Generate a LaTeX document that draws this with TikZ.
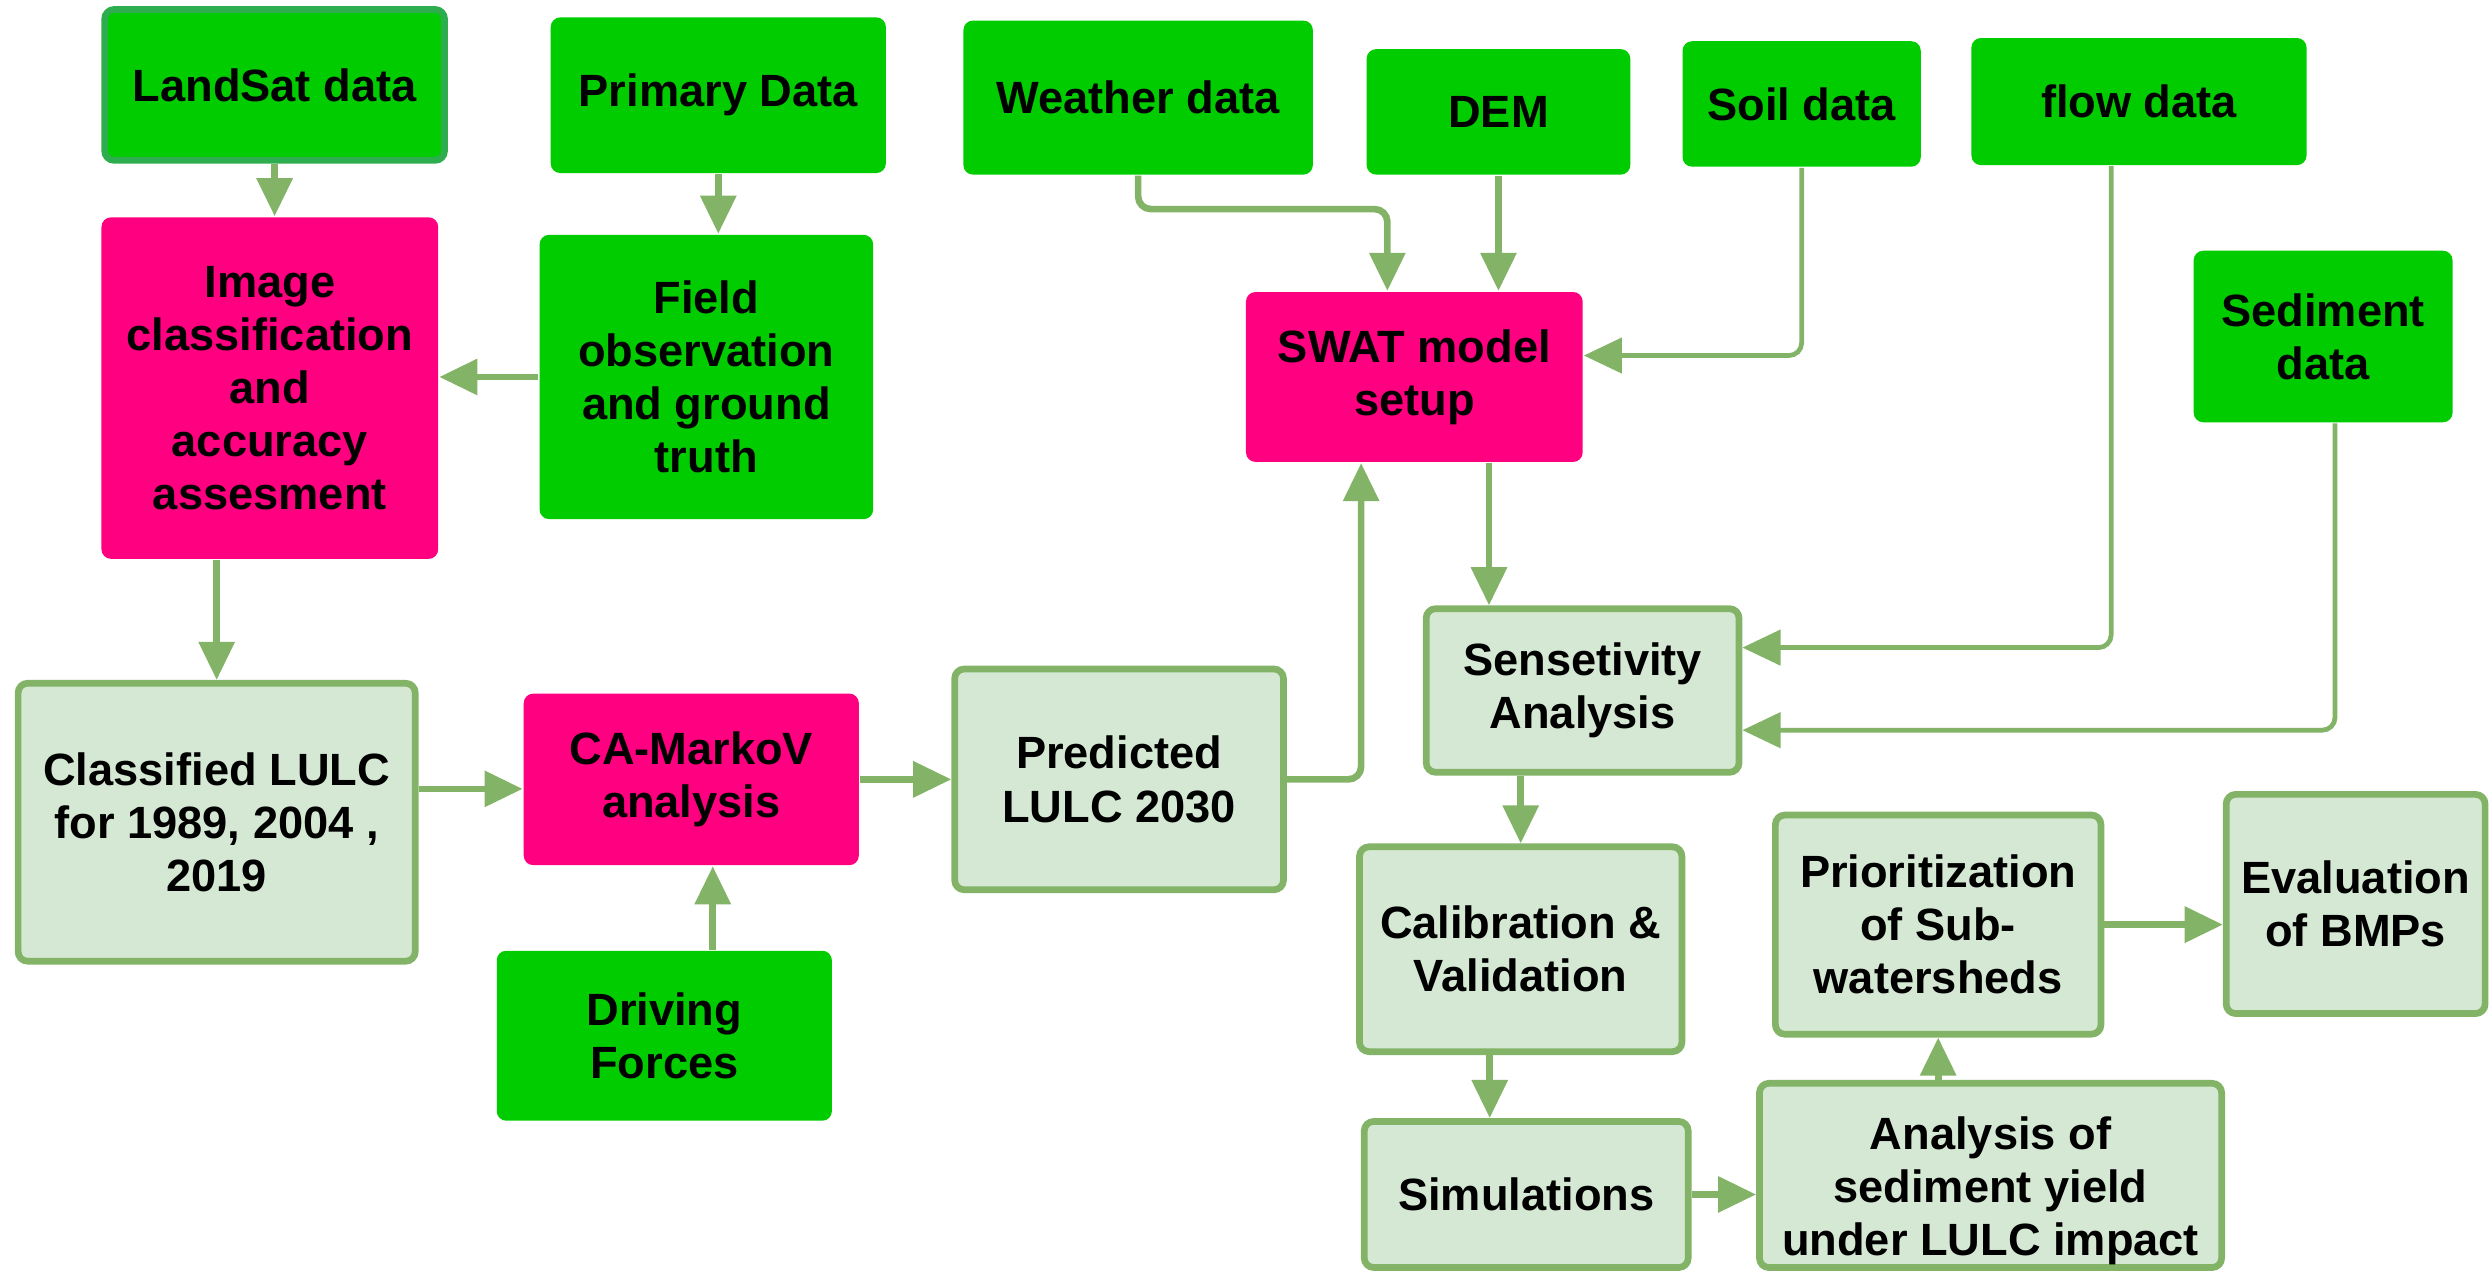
\documentclass[tikz,border=0pt]{standalone}
\usepackage{fontspec}
\setmainfont{Liberation Sans}
\usetikzlibrary{arrows.meta,calc}
\definecolor{gfill}{HTML}{00CC00}
\definecolor{pfill}{HTML}{FF0080}
\definecolor{lfill}{HTML}{D5E8D4}
\definecolor{lline}{HTML}{82B366}
\definecolor{lsline}{HTML}{2EAD4F}
\begin{document}
\begin{tikzpicture}[x=0.01cm,y=-0.01cm,
  base/.style={inner sep=0pt, align=center, font=\bfseries\fontsize{8.1}{9.5}\selectfont},
  gbox/.style={base, fill=gfill, rounded corners=0.06cm},
  pbox/.style={base, fill=pfill, rounded corners=0.06cm},
  lbox/.style={base, fill=lfill, draw=lline, line width=1.2pt, rounded corners=0.06cm},
  arr/.style={draw=lline, line width=1.2pt, -{Triangle[length=0.24cm,width=0.22cm]}},
  thinarr/.style={arr, line width=0.85pt},
]
\useasboundingbox (0,0) rectangle (1568,801);

% nodes
\node[gbox, draw=lsline, line width=1.2pt, minimum width=2.14cm, minimum height=0.95cm] (landsat) at (173,53.5) {LandSat data};
\node[gbox, minimum width=2.11cm, minimum height=0.98cm] (primary) at (452.5,60) {Primary Data};
\node[pbox, minimum width=2.12cm, minimum height=2.15cm] (image) at (170,244.5) {Image\\classification\\and\\accuracy\\assesment};
\node[gbox, minimum width=2.10cm, minimum height=1.79cm] (field) at (445,237.5) {Field\\observation\\and ground\\truth};
\node[gbox, minimum width=2.20cm, minimum height=0.97cm] (weather) at (717,61.5) {Weather data};
\node[gbox, minimum width=1.66cm, minimum height=0.79cm] (dem) at (944,70.5) {DEM};
\node[gbox, minimum width=1.50cm, minimum height=0.79cm] (soil) at (1135,65.5) {Soil data};
\node[gbox, minimum width=2.11cm, minimum height=0.80cm] (flow) at (1347.5,64) {flow data};
\node[gbox, minimum width=1.63cm, minimum height=1.08cm] (sediment) at (1463.5,212) {Sediment\\data};
\node[pbox, minimum width=2.12cm, minimum height=1.07cm] (swat) at (891,237.5) {SWAT model\\setup};
\node[lbox, minimum width=2.50cm, minimum height=1.75cm] (classified) at (136.5,518) {Classified LULC\\for 1989, 2004 ,\\2019};
\node[pbox, minimum width=2.11cm, minimum height=1.08cm] (camarkov) at (435.5,491) {CA-MarkoV\\analysis};
\node[lbox, minimum width=2.07cm, minimum height=1.39cm] (predicted) at (705,491) {Predicted\\LULC 2030};
\node[gbox, minimum width=2.11cm, minimum height=1.07cm] (driving) at (418.5,652.5) {Driving\\Forces};
\node[lbox, minimum width=1.97cm, minimum height=1.03cm] (sens) at (997,435) {Sensetivity\\Analysis};
\node[lbox, minimum width=2.03cm, minimum height=1.29cm] (calib) at (958,598) {Calibration \&\\Validation};
\node[lbox, minimum width=2.04cm, minimum height=0.92cm] (sim) at (961.5,752.5) {Simulations};
\node[lbox, minimum width=2.91cm, minimum height=1.16cm] (analysis) at (1254,740.5) {};
\node[base] (analysistext) at (1254,750) {Analysis of\\sediment yield\\under LULC impact};
\node[lbox, minimum width=2.05cm, minimum height=1.38cm] (prior) at (1221,582.5) {Prioritization\\of Sub-\\watersheds};
\node[lbox, minimum width=1.63cm, minimum height=1.38cm] (eval) at (1484,569.5) {Evaluation\\of BMPs};

% helper coordinates
\coordinate (c1) at ([yshift=0.21cm]classified.east);
\coordinate (c2) at ([xshift=0.305cm]driving.north);
\coordinate (c3) at ([xshift=-0.335cm]swat.south);
\coordinate (c4) at ([yshift=-0.21cm]weather.south);
\coordinate (c5) at ([xshift=-0.17cm]swat.north);
\coordinate (c6) at ([yshift=0.135cm]swat.east);
\coordinate (c7) at ([xshift=0.47cm]swat.south);
\coordinate (c8) at ([xshift=-0.175cm]flow.south);
\coordinate (c9) at ([yshift=0.27cm]sens.east);
\coordinate (c10) at ([xshift=0.075cm]sediment.south);
\coordinate (c11) at ([yshift=-0.25cm]sens.east);
\coordinate (c12) at ([xshift=-0.195cm]calib.south);

% connectors
\draw[arr] (landsat.south) -- (landsat.south |- image.north);
\draw[arr] (primary.south) -- (primary.south |- field.north);
\draw[arr] (field.west) -- (image.east |- field.west);
\draw[arr] (image.south -| classified.north) -- (classified.north);
\draw[arr] (c1) -- (c1 -| camarkov.west);
\draw[arr] (camarkov.east) -- (predicted.west);
\draw[arr] (c2) -- (c2 |- camarkov.south);
\draw[arr, rounded corners=0.08cm] (predicted.east) -| (c3);
\draw[arr, rounded corners=0.08cm] (weather.south) -- (c4) -| (c5);
\draw[arr] (dem.south) -- (dem.south |- swat.north);
\draw[thinarr, rounded corners=0.08cm] (soil.south) |- (c6);
\draw[arr] (c7) -- (c7 |- sens.north);
\draw[thinarr, rounded corners=0.08cm] (c8) |- (c9);
\draw[thinarr, rounded corners=0.08cm] (c10) |- (c11);
\draw[arr] (sens.south -| calib.north) -- (calib.north);
\draw[arr] (c12) -- (c12 |- sim.north);
\draw[arr] (sim.east) -- (sim.east -| analysis.west);
\draw[arr] (analysis.north -| prior.south) -- (prior.south);
\draw[arr] (prior.east) -- (prior.east -| eval.west);
\end{tikzpicture}
\end{document}
